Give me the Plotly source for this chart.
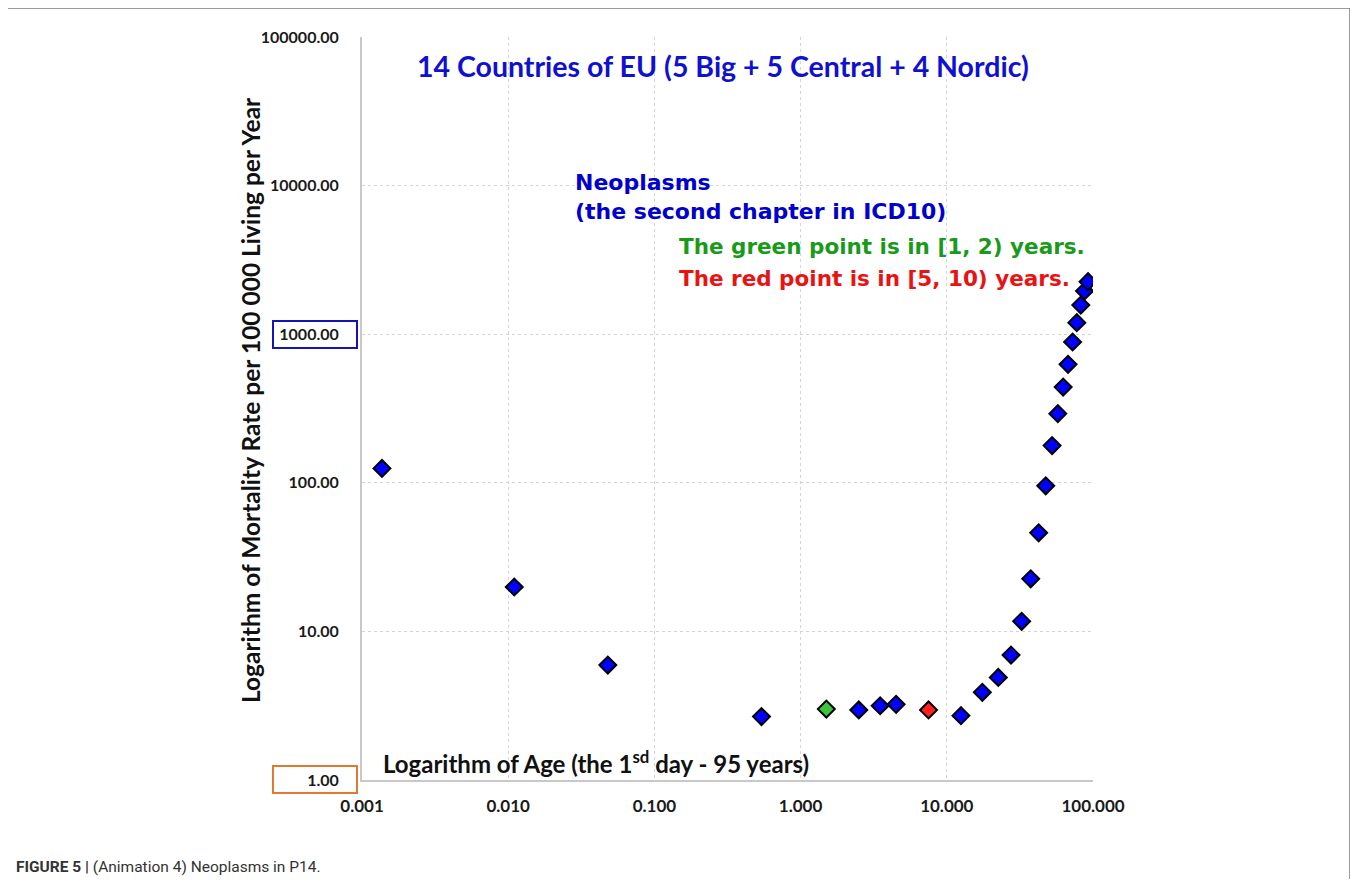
import plotly.graph_objects as go

# ---------------- data ----------------
age_years = [0.00137, 0.011, 0.048, 0.54, 1.5, 2.5, 3.5, 4.5, 7.5,
             12.5, 17.5, 22.5, 27.5, 32.5, 37.5, 42.5, 47.5, 52.5,
             57.5, 62.5, 67.5, 72.5, 77.5, 82.5, 87.5, 92.5]
mortality_rate = [125, 19.9, 5.94, 2.67, 3.0, 2.96, 3.16, 3.23, 2.96,
                  2.71, 3.89, 4.90, 6.93, 11.7, 22.6, 46.1, 95.5, 178,
                  292, 441, 627, 886, 1195, 1571, 1953, 2256]
point_group = ["other"] * 4 + ["green"] + ["other"] * 3 + ["red"] + ["other"] * 17

x_tick_vals = [0.001, 0.01, 0.1, 1, 10, 100]
x_tick_text = ["0.001", "0.010", "0.100", "1.000", "10.000", "100.000"]
y_tick_vals = [1, 10, 100, 1000, 10000, 100000]
y_tick_text = ["1.00", "10.00", "100.00", "1000.00", "10000.00", "100000.00"]

group_color = {"other": "#0000ff", "green": "#3cc43c", "red": "#ff2020"}

# ---------------- layout helpers (page pixel -> paper) ----------------
OFF = 8                      # default body margin of the html page
PW, PH = 1358, 887           # page size
W, H = PW - 2 * OFF, PH - 2 * OFF
L, R, T, B = 362, 1093, 37, 780   # plot area in page pixels


def px(x):
    return (x - L) / (R - L)


def py(y):
    return (B - y) / (B - T)


fig = go.Figure()
fig.add_trace(go.Scatter(
    x=age_years, y=mortality_rate, mode="markers",
    marker=dict(symbol="diamond", size=13,
                color=[group_color[g] for g in point_group],
                line=dict(color="black", width=2)),
    showlegend=False, hoverinfo="x+y"))

calibri = "Lato, Carlito, Calibri, sans-serif"
verdana = "DejaVu Sans, Verdana, sans-serif"

fig.update_layout(
    width=W, height=H,
    margin=dict(l=L - OFF, r=W - (R - OFF), t=T - OFF, b=H - (B - OFF)),
    paper_bgcolor="white", plot_bgcolor="white",
    xaxis=dict(type="log", range=[-3, 2], tickvals=x_tick_vals, ticktext=x_tick_text,
               showgrid=True, gridcolor="#d4d4d4", griddash="dot", gridwidth=1,
               showline=True, linecolor="#c8c8c8", linewidth=2, zeroline=False,
               ticks="", ticklabelstandoff=10,
               tickfont=dict(family=calibri, size=17, color="#1a1a1a", weight="bold")),
    yaxis=dict(type="log", range=[0, 5], tickvals=y_tick_vals, ticktext=y_tick_text,
               showgrid=True, gridcolor="#d4d4d4", griddash="dot", gridwidth=1,
               showline=True, linecolor="#c8c8c8", linewidth=2, zeroline=False,
               ticks="", ticklabelstandoff=18,
               tickfont=dict(family=calibri, size=16, color="#1a1a1a", weight="bold")),
)

ann = [
    dict(text="14 Countries of EU (5 Big + 5 Central + 4 Nordic)", x=px(723), y=py(66),
         xanchor="center", yanchor="middle",
         font=dict(family=calibri, size=28.5, color="#1010d0", weight="bold")),
    dict(text="Neoplasms", x=px(573), y=py(183), xanchor="left", yanchor="middle",
         font=dict(family=verdana, size=22, color="#0000cc", weight="bold")),
    dict(text="(the second chapter in ICD10)", x=px(573), y=py(211), xanchor="left", yanchor="middle",
         font=dict(family=verdana, size=22, color="#0000cc", weight="bold")),
    dict(text="The green point is in [1, 2) years.", x=px(677), y=py(246), xanchor="left", yanchor="middle",
         font=dict(family=verdana, size=21.5, color="#1a9a1a", weight="bold")),
    dict(text="The red point is in [5, 10) years.", x=px(677), y=py(278), xanchor="left", yanchor="middle",
         font=dict(family=verdana, size=21.5, color="#e81414", weight="bold")),
    dict(text="Logarithm of Age (the 1<sup>sd</sup> day - 95 years)", x=px(381), y=py(762),
         xanchor="left", yanchor="middle",
         font=dict(family=calibri, size=24, color="#111111", weight="bold")),
    dict(text="Logarithm of Mortality Rate per 100 000 Living per Year", x=px(250), y=py(400),
         xanchor="center", yanchor="middle", textangle=-90,
         font=dict(family=calibri, size=24.5, color="#111111", weight="bold")),
    dict(text="<b>FIGURE 5 |</b> (Animation 4) Neoplasms in P14.", x=px(14), y=py(867),
         xanchor="left", yanchor="middle",
         font=dict(family="Roboto, Liberation Sans, sans-serif", size=15.5, color="#333333")),
]
for a in ann:
    a.update(xref="paper", yref="paper", showarrow=False)
fig.update_layout(annotations=ann)

shapes = [
    # outer frame (open at bottom)
    dict(type="line", x0=px(7), x1=px(7), y0=py(8), y1=py(900), line=dict(color="#7a7a7a", width=1.5)),
    dict(type="line", x0=px(7), x1=px(1350), y0=py(8), y1=py(8), line=dict(color="#7a7a7a", width=1.5)),
    dict(type="line", x0=px(1350), x1=px(1350), y0=py(8), y1=py(900), line=dict(color="#7a7a7a", width=1.5)),
    # highlight boxes around tick labels
    dict(type="rect", x0=px(273), x1=px(357), y0=py(321), y1=py(348), line=dict(color="#1414b4", width=2)),
    dict(type="rect", x0=px(273), x1=px(357), y0=py(766), y1=py(793), line=dict(color="#e07a2c", width=2)),
]
for s in shapes:
    s.update(xref="paper", yref="paper", layer="above")
fig.update_layout(shapes=shapes)

fig.write_html("out.html")
